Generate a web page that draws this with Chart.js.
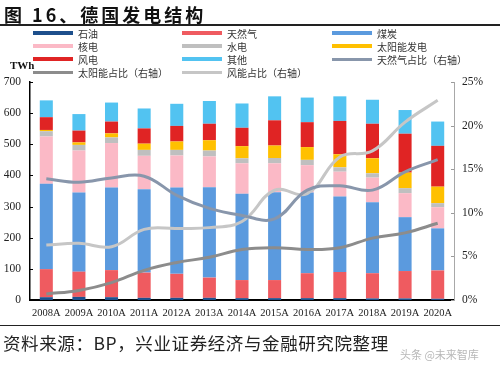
<!DOCTYPE html>
<html>
<head>
<meta charset="utf-8">
<script src="https://cdn.jsdelivr.net/npm/chart.js@4"></script>
<style>
    body { margin: 0; background: #fff; }
    #wrap { position: relative; width: 500px; height: 367px; overflow: hidden; }
    #chart { position: absolute; left: 0; top: 0; }
    .title { position: absolute; left: 4px; top: 1px; font: bold 18px "Noto Sans CJK SC", sans-serif; letter-spacing: 3px; color: #111; }
    .rule { position: absolute; left: 0; width: 500px; background: #222; }
    .unit { position: absolute; left: 10px; top: 59px; font: bold 11px "Liberation Serif", serif; color: #111; }
    .leg { position: absolute; font: 10px "Noto Sans CJK SC", sans-serif; color: #333; white-space: nowrap; }
    .leg i { position: absolute; left: 0; width: 40px; }
    .leg span { position: absolute; top: -7px; }
    .source { position: absolute; left: 3px; top: 330px; font: 17.5px "Noto Sans CJK SC", sans-serif; color: #222; letter-spacing: 0.6px; white-space: nowrap; }
    .mark { position: absolute; left: 400px; top: 346px; font: 11px "Noto Sans CJK SC", sans-serif; color: #b8b8b8; }
</style>
</head>
<body>
<div id="wrap">
    <canvas id="chart" width="500" height="367"></canvas>
    <div class="title">图 16、德国发电结构</div>
    <div class="rule" style="top:24px;height:1.5px"></div>
    <div id="legend"></div>
    <div class="unit">TWh</div>
    <div class="rule" style="top:325px;height:1px"></div>
    <div class="source">资料来源：BP，兴业证券经济与金融研究院整理</div>
    <div class="mark">头条 @未来智库</div>
</div>
<script>
// Categories
const years = ['2008A', '2009A', '2010A', '2011A', '2012A', '2013A', '2014A',
    '2015A', '2016A', '2017A', '2018A', '2019A', '2020A'];

// Generation by source, TWh
const oil     = [9, 10, 9, 7, 7, 7, 6, 6, 6, 6, 5, 5, 4];
const gas     = [90, 81, 87, 81, 77, 65, 58, 58, 80, 84, 81, 88, 91];
const coal    = [274, 254, 265, 268, 277, 290, 277, 282, 259, 242, 228, 173, 135];
const nuclear = [152, 135, 143, 107, 103, 99, 98, 93, 88, 80, 79, 77, 68];
const hydro   = [17, 18, 18, 19, 18, 19, 16, 17, 17, 14, 14, 16, 13];
const solar   = [4, 8, 13, 20, 27, 33, 39, 40, 41, 42, 48, 50, 53];
const wind    = [41, 38, 38, 49, 50, 53, 59, 81, 80, 107, 111, 125, 131];
const other   = [54, 53, 61, 64, 71, 73, 78, 77, 79, 79, 77, 76, 78];

// Shares, right axis (fraction)
const gasShare   = [0.139, 0.135, 0.140, 0.142, 0.120, 0.105, 0.097, 0.093, 0.126, 0.131, 0.126, 0.147, 0.161];
const solarShare = [0.007, 0.011, 0.020, 0.034, 0.043, 0.049, 0.058, 0.060, 0.058, 0.060, 0.071, 0.077, 0.088];
const windShare  = [0.063, 0.065, 0.061, 0.081, 0.082, 0.083, 0.090, 0.126, 0.122, 0.164, 0.171, 0.204, 0.229];

// Tick labels
const leftTicks = [0, 100, 200, 300, 400, 500, 600, 700];
const rightTicks = [0, 0.05, 0.10, 0.15, 0.20, 0.25];

const barSeries = [
    { label: '石油', data: oil, color: '#1d4f8c' },
    { label: '天然气', data: gas, color: '#ef5b60' },
    { label: '煤炭', data: coal, color: '#5b9ade' },
    { label: '核电', data: nuclear, color: '#fbb9c6' },
    { label: '水电', data: hydro, color: '#bfbfbf' },
    { label: '太阳能发电', data: solar, color: '#ffc000' },
    { label: '风电', data: wind, color: '#e02424' },
    { label: '其他', data: other, color: '#52c3f1' }
];

const lineSeries = [
    { label: '天然气占比（右轴）', data: gasShare, color: '#8896ab' },
    { label: '太阳能占比（右轴）', data: solarShare, color: '#8c8c8c' },
    { label: '风能占比（右轴）', data: windShare, color: '#c6c6c6' }
];

// Legend, three columns in the order of the picture
function renderLegend() {
    const items = barSeries.map(s => ({ label: s.label, color: s.color, h: 4 }))
        .concat(lineSeries.map(s => ({ label: s.label, color: s.color, h: 3 })));
    const colX = [33, 182, 332];
    const rowY = [33, 46, 59, 72];
    const container = document.getElementById('legend');
    container.innerHTML = items.map((it, i) => {
        const x = colX[i % 3];
        const y = rowY[Math.floor(i / 3)];
        return `<div class="leg" style="left:${x}px;top:${y}px">
            <i style="top:${-it.h / 2}px;height:${it.h}px;background:${it.color}"></i>
            <span style="left:45px">${it.label}</span></div>`;
    }).join('');
}

// Small inward tick marks on both value axes
const innerTicks = {
    id: 'innerTicks',
    afterDraw(chart) {
        const ctx = chart.ctx;
        const draw = (scale, dir, color) => {
            ctx.save();
            ctx.strokeStyle = color;
            ctx.lineWidth = 1;
            scale.ticks.forEach((t, i) => {
                const y = Math.round(scale.getPixelForTick(i)) + 0.5;
                const x = dir > 0 ? scale.right : scale.left;
                ctx.beginPath();
                ctx.moveTo(x, y);
                ctx.lineTo(x + dir * 3, y);
                ctx.stroke();
            });
            ctx.restore();
        };
        draw(chart.scales.y, 1, '#000');
        draw(chart.scales.y1, -1, '#9a9a9a');
    }
};

renderLegend();

const datasets = lineSeries.map(s => ({
    type: 'line',
    label: s.label,
    data: s.data,
    yAxisID: 'y1',
    borderColor: s.color,
    backgroundColor: s.color,
    borderWidth: 3,
    pointRadius: 0,
    tension: 0.4,
    order: 0
})).concat(barSeries.map(s => ({
    type: 'bar',
    label: s.label,
    data: s.data,
    yAxisID: 'y',
    backgroundColor: s.color,
    borderWidth: 0,
    barPercentage: 0.4,
    categoryPercentage: 1,
    order: 1
})));

new Chart(document.getElementById('chart').getContext('2d'), {
    data: { labels: years, datasets: datasets },
    plugins: [innerTicks],
    options: {
        responsive: false,
        animation: false,
        devicePixelRatio: 1,
        layout: { padding: { top: 82, left: 0, right: 0, bottom: 47 } },
        plugins: { legend: { display: false }, tooltip: { enabled: false } },
        scales: {
            x: {
                stacked: true,
                grid: { display: false, drawTicks: false },
                border: { display: true, color: '#000', width: 2 },
                ticks: { padding: 7, color: '#222', maxRotation: 0, autoSkip: false,
                    font: { family: 'Liberation Serif', size: 10.5 } },
                afterFit: (scale) => { scale.height = 20; }
            },
            y: {
                stacked: true,
                position: 'left',
                min: 0,
                max: 700,
                afterBuildTicks: (scale) => { scale.ticks = leftTicks.map(v => ({ value: v })); },
                grid: { display: false, drawTicks: false },
                border: { display: true, color: '#000', width: 1.5 },
                ticks: { padding: 9, color: '#222', font: { family: 'Liberation Serif', size: 11.5 } },
                afterFit: (scale) => { scale.width = 30; }
            },
            y1: {
                stacked: false,
                position: 'right',
                min: 0,
                max: 0.25,
                afterBuildTicks: (scale) => { scale.ticks = rightTicks.map(v => ({ value: v })); },
                grid: { display: false, drawTicks: false },
                border: { display: true, color: '#a8a8a8', width: 1 },
                ticks: { padding: 8, color: '#222', font: { family: 'Liberation Serif', size: 11.5 },
                    callback: (v) => Math.round(v * 100) + '%' },
                afterFit: (scale) => { scale.width = 46; }
            }
        }
    }
});
</script>
</body>
</html>
